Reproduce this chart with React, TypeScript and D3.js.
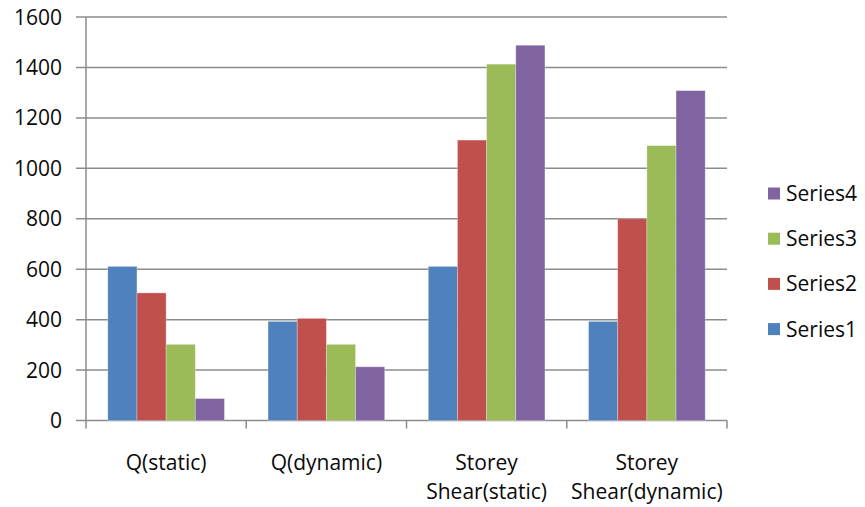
import React from "react";
import * as d3 from "d3";

const categories: string[][] = [["Q(static)"], ["Q(dynamic)"], ["Storey", "Shear(static)"], ["Storey", "Shear(dynamic)"]];
const seriesNames = ["Series1", "Series2", "Series3", "Series4"];
const series1 = [611, 393, 611, 393];
const series2 = [506, 405, 1112, 800];
const series3 = [302, 302, 1413, 1090];
const series4 = [87, 213, 1488, 1308];
const yTicks = [0, 200, 400, 600, 800, 1000, 1200, 1400, 1600];
const colors = ["#4F81BD", "#C0504D", "#9BBB59", "#8064A2"];

const W = 865, H = 507;
const left = 86, right = 727, top = 17, bottom = 420.5;
const FONT = "'Open Sans', sans-serif";
const FS = 21;

export default function App() {
  const allSeries = [series1, series2, series3, series4];
  const y = d3.scaleLinear().domain([0, 1600]).range([bottom, top]);
  const idx = categories.map((_, i) => i);
  const x0 = d3.scaleBand<number>().domain(idx).range([left, right]).paddingInner(0).paddingOuter(0);
  const groupPad = 21.8;
  const x1 = d3.scaleBand<number>().domain([0, 1, 2, 3]).range([groupPad, x0.bandwidth() - groupPad]).padding(0);

  return (
    <svg width={W} height={H} style={{ position: "absolute", left: 0, top: 0, background: "#fff" }} fontFamily={FONT}>
      {yTicks.map((t) => (
        <g key={t}>
          <line x1={left - 10} x2={right} y1={y(t)} y2={y(t)} stroke="#8c8c8c" strokeWidth={1.5} />
          <text x={62} y={y(t)} dy="0.36em" textAnchor="end" fontSize={FS} fill="#0a0a0a">{t}</text>
        </g>
      ))}
      <line x1={left} x2={left} y1={top} y2={bottom} stroke="#8c8c8c" strokeWidth={1.5} />
      {idx.concat([idx.length]).map((i) => {
        const xx = i < idx.length ? (x0(i) as number) : right;
        return <line key={"t" + i} x1={xx} x2={xx} y1={bottom} y2={bottom + 8} stroke="#8c8c8c" strokeWidth={1.5} />;
      })}
      {allSeries.map((s, si) =>
        s.map((v, ci) => (
          <rect
            key={si + "-" + ci}
            x={(x0(ci) as number) + (x1(si) as number)}
            y={y(v)}
            width={x1.bandwidth()}
            height={bottom - y(v)}
            fill={colors[si]}
            stroke="rgba(255,255,255,0.35)"
            strokeWidth={0.8}
          />
        ))
      )}
      {categories.map((lines, ci) => (
        <text key={"c" + ci} x={(x0(ci) as number) + x0.bandwidth() / 2} textAnchor="middle" fontSize={FS} fill="#0a0a0a">
          {lines.map((l, li) => (
            <tspan key={li} x={(x0(ci) as number) + x0.bandwidth() / 2} y={469.5 + li * 29}>{l}</tspan>
          ))}
        </text>
      ))}
      {seriesNames.slice().reverse().map((name, i) => {
        const si = seriesNames.length - 1 - i;
        const cy = 193.5 + i * 45.2;
        return (
          <g key={name}>
            <rect x={768} y={cy - 6} width={12} height={12} fill={colors[si]} />
            <text x={786} y={cy} dy="0.36em" fontSize={FS} fill="#0a0a0a">{name}</text>
          </g>
        );
      })}
    </svg>
  );
}
